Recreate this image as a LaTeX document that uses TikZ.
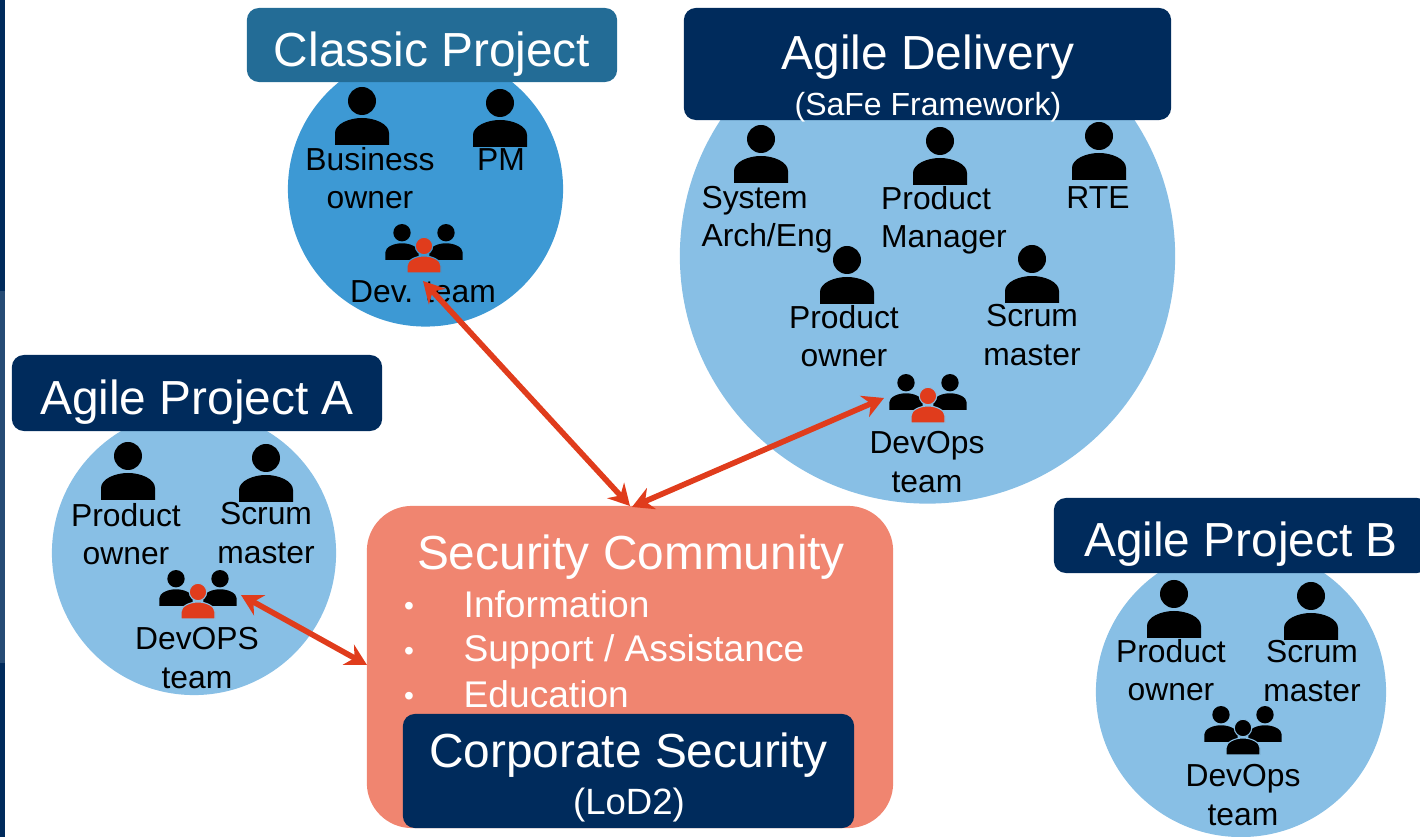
\documentclass[tikz,border=0pt]{standalone}
\usepackage{fontspec}
\setmainfont{Liberation Sans}
\usetikzlibrary{arrows.meta}
\definecolor{navy}{HTML}{002B5C}
\definecolor{classicteal}{HTML}{236C96}
\definecolor{midblue}{HTML}{3D99D4}
\definecolor{lightblue}{HTML}{88BFE5}
\definecolor{salmon}{HTML}{F08570}
\definecolor{arrowred}{HTML}{E03C1C}
\tikzset{
    box/.style = {draw=none, rounded corners=0.12cm, inner sep=0pt, fill=navy},
    title/.style = {inner sep=0pt, anchor=base, text=white, font=\fontsize{13.6}{15}\selectfont},
    sub/.style = {inner sep=0pt, anchor=base, text=white, font=\fontsize{9.1}{11}\selectfont},
    group/.style = {circle, draw=none, inner sep=0pt},
    role/.style = {inner sep=0pt, text=black, align=center, font=\fontsize{9.05}{10.9}\selectfont},
    item/.style = {inner sep=0pt, text=white, font=\fontsize{10.56}{12}\selectfont},
    link/.style = {<->, >={Stealth[length=6pt,width=6.5pt]}, arrowred, line width=1.6pt},
    pics/person/.style = {code={
        \fill[#1] (0,-44) circle (14);
        \fill[#1] (-27,0) -- (-27,-12) .. controls (-27,-21) and (-13,-27) .. (0,-27)
            .. controls (13,-27) and (27,-21) .. (27,-12) -- (27,0) -- cycle;
    }},
    pics/team/.style 2 args = {code={
        \pic[scale=0.62] at (-22,-13) {person=black};
        \pic[scale=0.62] at (22,-13) {person=black};
        \draw[#2, line width=0.3pt, fill=#1] (0,-27) circle (8.7);
        \draw[#2, line width=0.3pt, fill=#1] (-17,0) -- (-17,-7) .. controls (-17,-13) and (-8,-17) .. (0,-17)
            .. controls (8,-17) and (17,-13) .. (17,-7) -- (17,0) -- cycle;
    }},
}
\begin{document}
\begin{tikzpicture}[x=0.01cm, y=-0.01cm]
    \useasboundingbox (0,0) rectangle (1420,837);
    \clip (0,0) rectangle (1420,837);
    % strip on the left edge
    \fill[navy] (0,0) rectangle (5,291);
    \fill[navy!85!white] (0,291) rectangle (5,663);
    \fill[navy] (0,663) rectangle (5,837);

    % circles
    \node[group, fill=midblue, minimum size=2.75cm] (classic) at (425.5,189) {};
    \node[group, fill=lightblue, minimum size=4.95cm] (delivery) at (927.5,256) {};
    \node[group, fill=lightblue, minimum size=2.84cm] (agilea) at (194,553) {};
    \node[group, fill=lightblue, minimum size=2.90cm] (agileb) at (1241,692) {};

    % titles
    \node[box, fill=classicteal, minimum width=3.70cm, minimum height=0.74cm] (classicbox) at (432,45) {};
    \node[box, minimum width=4.87cm, minimum height=1.12cm] (deliverybox) at (927.5,64) {};
    \node[box, minimum width=3.70cm, minimum height=0.76cm] (agileabox) at (197,393) {};
    \node[box, minimum width=3.75cm, minimum height=0.75cm] (agilebbox) at (1241.5,535.5) {};
    \node[title] (classictitle) at (432,67) {Classic Project};
    \node[title] (deliverytitle) at (928,70) {Agile Delivery};
    \node[sub] (deliverysub) at (928,116) {(SaFe Framework)};
    \node[title] (agileatitle) at (197,415) {Agile Project A};
    \node[title] (agilebtitle) at (1241,557) {Agile Project B};

    % classic project
    \pic at (362,145) {person=black};
    \pic at (500,147) {person=black};
    \pic at (424,273) {team={arrowred}{midblue}};
    \node[role] (business) at (370,178) {Business\\owner};
    \node[role] (pm) at (501,160) {PM};
    \node[role] (devteam) at (423,292) {Dev. team};

    % agile delivery
    \pic at (761,183) {person=black};
    \pic at (940,185) {person=black};
    \pic at (1099,180) {person=black};
    \pic at (847,304) {person=black};
    \pic at (1032,303) {person=black};
    \pic at (928,423) {team={arrowred}{lightblue}};
    \node[role, align=left] (system) at (767,220) {System\\Arch/Eng};
    \node[role, align=left] (manager) at (944,220) {Product\\Manager};
    \node[role] (rte) at (1098,198) {RTE};
    \node[role] (downer) at (844,336) {Product\\owner};
    \node[role] (dscrum) at (1032,335) {Scrum\\master};
    \node[role] (devops) at (927,462) {DevOps\\team};

    % agile project a
    \pic at (128,500) {person=black};
    \pic at (266,502) {person=black};
    \pic at (198,619) {team={arrowred}{lightblue}};
    \node[role] (aowner) at (126,534) {Product\\owner};
    \node[role] (ascrum) at (266,533) {Scrum\\master};
    \node[role] (adevops) at (197,658) {DevOPS\\team};

    % agile project b
    \pic at (1174,638) {person=black};
    \pic at (1311,640) {person=black};
    \pic at (1243,755) {team={black}{lightblue}};
    \node[role] (bowner) at (1171,670) {Product\\owner};
    \node[role] (bscrum) at (1312,671) {Scrum\\master};
    \node[role] (bdevops) at (1243,795) {DevOps\\team};

    % security community
    \node[draw=none, fill=salmon, rounded corners=0.45cm, minimum width=5.26cm, minimum height=3.22cm, inner sep=0pt] (community) at (630,667) {};
    \node[title] (communitytitle) at (631,570) {Security Community};
    \node[item, anchor=base west] (info) at (463,617.5) {Information};
    \node[item, anchor=base west] (support) at (463,662) {Support / Assistance};
    \node[item, anchor=base west] (education) at (463,707.5) {Education};
    \foreach \name/\ypos in {b1/616, b2/661, b3/706}
        \node[item, anchor=base, font=\fontsize{8}{10}\selectfont] (\name) at (409,\ypos) {•};
    \node[box, minimum width=4.51cm, minimum height=1.14cm] (corporatebox) at (628.5,771) {};
    \node[title] (corporate) at (628.5,768) {Corporate Security};
    \node[sub, font=\fontsize{10.4}{12}\selectfont] (lod) at (629,815) {(LoD2)};

    % arrow ends
    \coordinate (classicend) at (423,281);
    \coordinate (deliveryend) at (884,398);
    \coordinate (agileaend) at (241,595);
    \coordinate (topleft) at (630,506);
    \coordinate (topright) at (632,507);
    \coordinate (leftside) at (367,665);

    \draw[link] (classicend) -- (topleft);
    \draw[link] (deliveryend) -- (topright);
    \draw[link] (agileaend) -- (leftside);
\end{tikzpicture}
\end{document}
